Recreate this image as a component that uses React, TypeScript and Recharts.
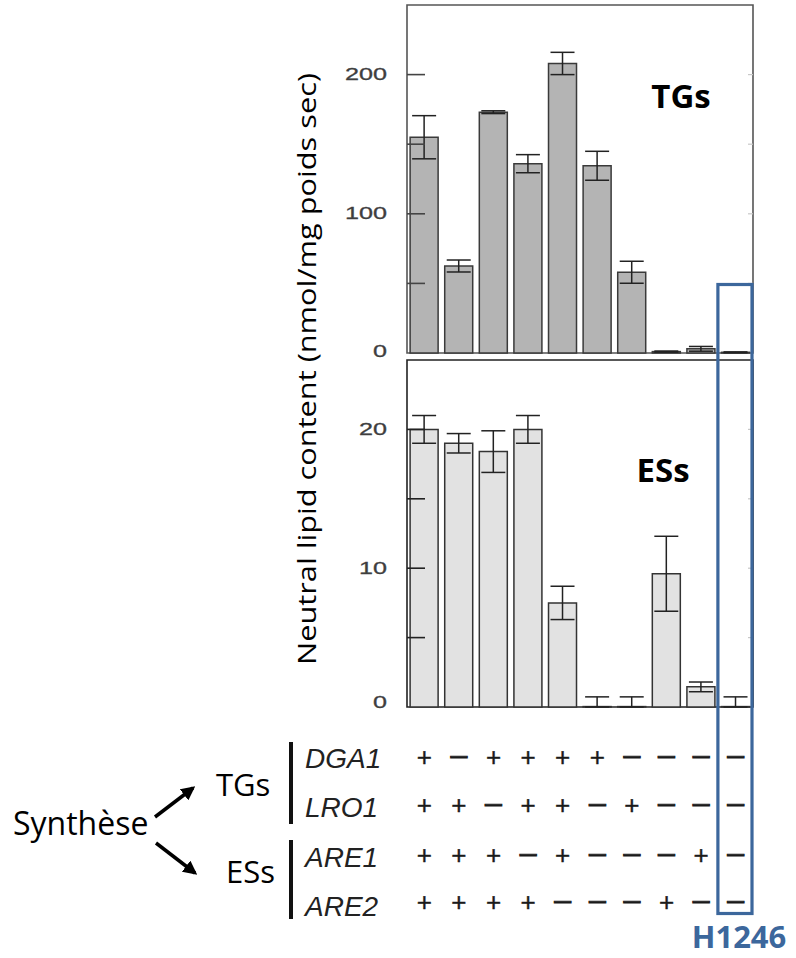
import { BarChart, Bar, XAxis, YAxis, ErrorBar, ReferenceArea } from 'recharts';

// strains, left to right; the last one is the quadruple mutant H1246
const strains = ['S1', 'S2', 'S3', 'S4', 'S5', 'S6', 'S7', 'S8', 'S9', 'H1246'];

// genotype table (+ = gene present, – = deleted)
const dga1 = ['+', '–', '+', '+', '+', '+', '–', '–', '–', '–'];
const lro1 = ['+', '+', '–', '+', '+', '–', '+', '–', '–', '–'];
const are1 = ['+', '+', '+', '–', '+', '–', '–', '–', '+', '–'];
const are2 = ['+', '+', '+', '+', '–', '–', '–', '+', '–', '–'];
const geneNames = ['DGA1', 'LRO1', 'ARE1', 'ARE2'];

// TGs (nmol/mg dry weight)
const tgMean = [155, 62.5, 173, 136, 208, 134.5, 58, 1, 3, 0.5];
const tgErr = [15.5, 4.3, 1, 6.5, 8, 10.4, 7.9, 0.4, 1.7, 0.3];

// ESs (nmol/mg dry weight) - "0" strains kept at a hair above zero so their error caps draw
const esMean = [20, 19, 18.4, 20, 7.5, 0.03, 0.03, 9.6, 1.45, 0.03];
const esErrLow = [1, 0.7, 1.5, 1, 1.2, 0.03, 0.03, 2.7, 0.35, 0.03];
const esErrHigh = [1, 0.7, 1.5, 1, 1.2, 0.7, 0.7, 2.7, 0.35, 0.7];

const tgTicks = [0, 50, 100, 150, 200];
const tgLabels = [0, 100, 200];
const esTicks = [0, 5, 10, 15, 20];
const esLabels = [0, 10, 20];

const tgData = strains.map((s, i) => ({ strain: s, value: tgMean[i], err: tgErr[i] }));
const esData = strains.map((s, i) => ({ strain: s, value: esMean[i], err: [esErrLow[i], esErrHigh[i]] }));
const genotypeRows = [dga1, lro1, are1, are2];

const W = 796;
const PLOT_LEFT = 407;
const PLOT_RIGHT = 753;
const BLUE = '#3c679c';
const SANS = "'Open Sans', sans-serif";
const ARIAL = "'Liberation Sans', Arial, sans-serif";

const makeYTick = (labelled: number[], stroke: string, zeroShift: number) => (props: any) => {
  const { x, y, payload } = props;
  const v = payload.value;
  const s = String(v);
  return (
    <g>
      {v !== 0 && (
        <line x1={PLOT_LEFT} x2={PLOT_LEFT + 18} y1={y} y2={y} stroke={stroke} strokeWidth={1.6} />
      )}
      {v !== 0 && (
        <line x1={PLOT_RIGHT - 5} x2={PLOT_RIGHT} y1={y} y2={y} stroke="#c8c8c8" strokeWidth={1.2} />
      )}
      {labelled.includes(v) && (
        <text
          x={x}
          y={v === 0 ? y - zeroShift : y}
          textAnchor="end"
          dominantBaseline="central"
          fontSize={17}
          fontFamily={ARIAL}
          fill="#3e3e3e"
          stroke="#3e3e3e"
          strokeWidth={0.3}
          textLength={14 * s.length}
          lengthAdjust="spacingAndGlyphs"
        >
          {s}
        </text>
      )}
    </g>
  );
};

const rowCenters = [50, 98, 148, 195];

const GenotypeTick = (props: any) => {
  const { x, y, index } = props;
  return (
    <g>
      {genotypeRows.map((row, r) => {
        const plus = row[index] === '+';
        return (
          <text
            key={r}
            x={x}
            y={y + rowCenters[r] + (plus ? 9 : 7)}
            textAnchor="middle"
            fontSize={plus ? 26 : 27}
            fontFamily={ARIAL}
            fill="#1a1a1a"
            stroke="#1a1a1a"
            strokeWidth={plus ? 0.4 : 0.9}
            transform={plus ? undefined : `translate(${x} 0) scale(1.12 1) translate(${-x} 0)`}
          >
            {row[index]}
          </text>
        );
      })}
    </g>
  );
};

export default function App() {
  const catW = (PLOT_RIGHT - PLOT_LEFT) / strains.length;
  const boxLeft = PLOT_LEFT + catW * (strains.length - 1) - 2;
  return (
    <div style={{ position: 'absolute', left: 0, top: 0, width: W, height: 958, background: '#fff' }}>
      <div style={{ position: 'absolute', left: 0, top: 355 }}>
        <BarChart
          width={W}
          height={603}
          data={esData}
          margin={{ top: 5, right: W - PLOT_RIGHT, bottom: 0, left: 0 }}
          barCategoryGap="9%"
        >
          <XAxis
            dataKey="strain"
            height={251}
            interval={0}
            axisLine={false}
            tickLine={false}
            tickSize={0}
            tickMargin={0}
            tick={<GenotypeTick />}
          />
          <YAxis
            width={PLOT_LEFT}
            domain={[0, 25]}
            ticks={esTicks}
            interval={0}
            axisLine={false}
            tickLine={false}
            tickSize={0}
            tickMargin={20}
            tick={makeYTick(esLabels, '#222', 5)}
          />
          <Bar dataKey="value" fill="#e2e2e2" stroke="#333" strokeWidth={1.5} isAnimationActive={false}>
            <ErrorBar dataKey="err" width={12} stroke="#222" strokeWidth={1.5} direction="y" />
          </Bar>
          <ReferenceArea y1={0} y2={25} fill="none" stroke="#222" strokeWidth={1.6} ifOverflow="visible" />
        </BarChart>
      </div>
      <div style={{ position: 'absolute', left: 0, top: 0 }}>
        <BarChart
          width={W}
          height={370}
          data={tgData}
          margin={{ top: 5, right: W - PLOT_RIGHT, bottom: 17, left: 0 }}
          barCategoryGap="9%"
        >
          <XAxis dataKey="strain" hide />
          <YAxis
            width={PLOT_LEFT}
            domain={[0, 250]}
            ticks={tgTicks}
            interval={0}
            axisLine={false}
            tickLine={false}
            tickSize={0}
            tickMargin={20}
            tick={makeYTick(tgLabels, '#444', 2)}
          />
          <Bar dataKey="value" fill="#b4b4b4" stroke="#3a3a3a" strokeWidth={1.5} isAnimationActive={false}>
            <ErrorBar dataKey="err" width={12} stroke="#222" strokeWidth={1.5} direction="y" />
          </Bar>
          <ReferenceArea y1={0} y2={250} fill="none" stroke="#555" strokeWidth={1.6} ifOverflow="visible" />
        </BarChart>
      </div>
      <svg
        width={W}
        height={958}
        style={{ position: 'absolute', left: 0, top: 0, pointerEvents: 'none' }}
      >
        <defs>
          <marker id="arrow" viewBox="0 0 10 10" refX="8" refY="5" markerWidth="4" markerHeight="4" orient="auto">
            <path d="M0,0 L10,5 L0,10 z" fill="#000" />
          </marker>
        </defs>
        <text
          transform="translate(316, 369) rotate(-90)"
          textAnchor="middle"
          fontSize={25}
          fontFamily={SANS}
          fill="#000"
          textLength={592}
          lengthAdjust="spacingAndGlyphs"
        >
          Neutral lipid content (nmol/mg poids sec)
        </text>
        <text x={681} y={108} textAnchor="middle" fontSize={33} fontWeight={700} fontFamily={SANS}>TGs</text>
        <text x={663} y={482} textAnchor="middle" fontSize={33} fontWeight={700} fontFamily={SANS}>ESs</text>
        {geneNames.map((g, i) => (
          <text key={g} x={305} y={[768, 817, 867, 916][i]} fontSize={28} fontStyle="italic" fontFamily={ARIAL} fill="#222">
            {g}
          </text>
        ))}
        <rect x={289} y={742} width={4} height={82} fill="#111" />
        <rect x={289} y={840} width={4} height={79} fill="#111" />
        <text x={13} y={835} fontSize={32} fontFamily={SANS}>Synthèse</text>
        <text x={216} y={796} fontSize={31} fontFamily={SANS}>TGs</text>
        <text x={226} y={883} fontSize={31} fontFamily={SANS}>ESs</text>
        <line x1={155} y1={817} x2={193} y2={788} stroke="#000" strokeWidth={3.5} markerEnd="url(#arrow)" />
        <line x1={156} y1={843} x2={195} y2={873} stroke="#000" strokeWidth={3.5} markerEnd="url(#arrow)" />
        <rect x={boxLeft + 1.5} y={284.5} width={catW - 0.5} height={629} fill="none" stroke={BLUE} strokeWidth={3.2} />
        <text x={739} y={948} textAnchor="middle" fontSize={31} fontWeight={700} fontFamily={SANS} fill={BLUE}>
          H1246
        </text>
      </svg>
    </div>
  );
}
